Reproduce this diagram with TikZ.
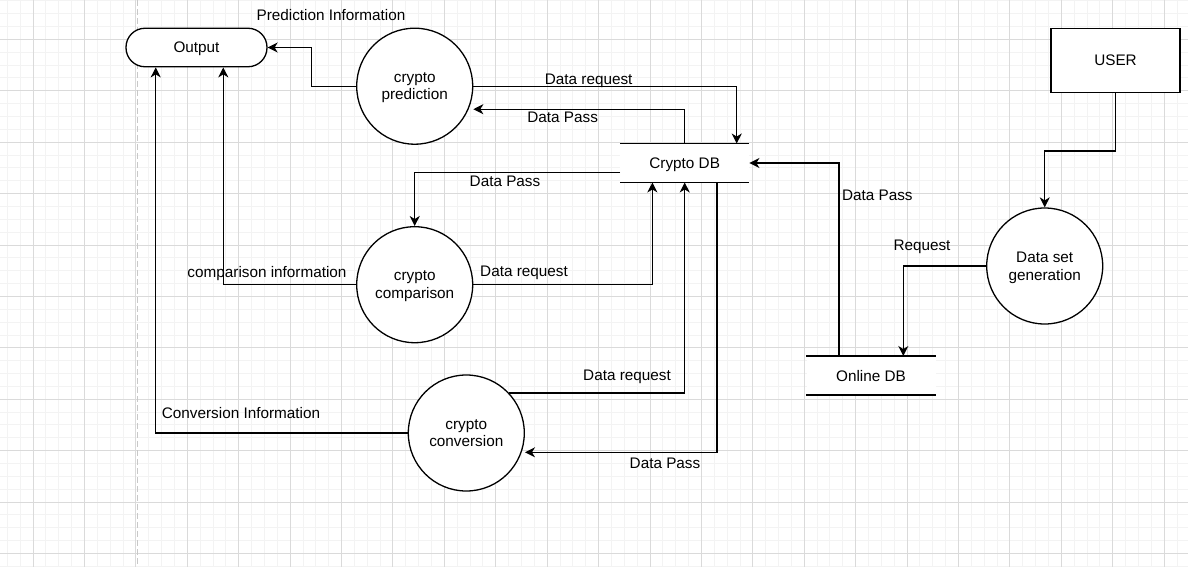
\documentclass[tikz,border=0pt]{standalone}
\usepackage{fontspec}
\setmainfont{Liberation Sans}
\usetikzlibrary{arrows.meta,calc}
\definecolor{gmajor}{RGB}{218,218,218}
\definecolor{gminor}{RGB}{243,243,243}
\definecolor{gdash}{RGB}{200,200,200}
\tikzset{
  every node/.style={font=\fontsize{15.3}{17.5}\selectfont, text=black, text depth=0pt},
  proc/.style={draw, circle, line width=1.3pt, minimum size=116pt, inner sep=0pt, align=center, fill=white},
  term/.style={draw, rounded corners=19pt, line width=1.3pt, minimum width=141pt, minimum height=38.5pt, fill=white},
  ent/.style={draw, line width=1.3pt, minimum width=129pt, minimum height=64pt, fill=white},
  store/.style={minimum width=129pt, minimum height=38.5pt, inner sep=0pt},
  lbl/.style={inner sep=1pt},
  arr/.style={line width=1.3pt, -{Stealth[length=10pt,width=10pt,inset=3pt]}},
  ln/.style={line width=1.3pt}
}
\begin{document}
\begin{tikzpicture}[x=1pt,y=-1pt]
\useasboundingbox (0,0) rectangle (1188,567);
\fill[white] (0,0) rectangle (1188,567);
% minor grid
\foreach \i in {-2,...,89} { \draw[gminor, line width=0.8pt] ({33+12.853*\i},0) -- ({33+12.853*\i},567); }
\foreach \j in {-3,...,41} { \draw[gminor, line width=0.8pt] (0,{39.3+12.853*\j}) -- (1188,{39.3+12.853*\j}); }
% major grid
\foreach \i in {0,...,22} { \draw[gmajor, line width=0.8pt] ({33+51.41*\i},0) -- ({33+51.41*\i},567); }
\foreach \j in {-1,...,10} { \draw[gmajor, line width=0.8pt] (0,{39.3+51.41*\j}) -- (1188,{39.3+51.41*\j}); }
\draw[gdash, line width=1.3pt, dash pattern=on 6pt off 3pt] (137.7,0) -- (137.7,567);

% nodes
\node[term] (out) at (196.5,47.5) {Output};
\node[proc] (pred) at (414.7,86.2) {crypto\\prediction};
\node[proc] (comp) at (414.7,284.7) {crypto\\comparison};
\node[proc] (conv) at (466.3,433) {crypto\\conversion};
\node[proc] (dsg) at (1044.7,266) {Data set\\generation};
\node[ent] (user) at (1115.5,60.3) {USER};
\node[store, fill=white] (cdb) at (684.7,163) {Crypto DB};
\draw[ln] (cdb.north west) -- (cdb.north east) (cdb.south west) -- (cdb.south east);
\node[store, fill=white] (odb) at (871,375.5) {Online DB};
\draw[ln] (odb.north west) -- (odb.north east) (odb.south west) -- (odb.south east);

% connectors
\draw[arr] (pred.west) -- ++(-44.7,0) |- (out.east);
\draw[arr] (pred.east) -| ([xshift=52pt]cdb.north);
\draw[arr] (cdb.north) |- ([yshift=-23pt]pred.east);
\draw[arr] ([yshift=-9.7pt]cdb.west) -| (comp.north);
\draw[arr] (comp.east) -| ([xshift=-32.3pt]cdb.south);
\draw[arr] (conv.43) -| (cdb.south);
\draw[arr] ([xshift=32.3pt]cdb.south) |- ([yshift=-19.3pt]conv.east);
\draw[arr] (comp.west) -| ([xshift=26.8pt]out.south);
\draw[arr] (conv.west) -| ([xshift=-40.8pt]out.south);
\draw[arr] ([xshift=-32pt]odb.north) |- (cdb.east);
\draw[arr] (dsg.west) -| ([xshift=32.3pt]odb.north);
\draw[arr] (user.south) -- ++(0,58) -| (dsg.north);

% labels
\node[lbl] (l1) at (331,15) {Prediction Information};
\node[lbl] (l2) at (588.7,79) {Data request};
\node[lbl] (l3) at (562.7,117.7) {Data Pass};
\node[lbl] (l4) at (505,181.7) {Data Pass};
\node[lbl] (l5) at (524,271.7) {Data request};
\node[lbl] (l6) at (267,272.3) {comparison information};
\node[lbl] (l7) at (627,375) {Data request};
\node[lbl] (l8) at (241,412.7) {Conversion Information};
\node[lbl] (l9) at (665,463.3) {Data Pass};
\node[lbl] (l10) at (877.3,195) {Data Pass};
\node[lbl] (l11) at (922,245.7) {Request};
\end{tikzpicture}
\end{document}
